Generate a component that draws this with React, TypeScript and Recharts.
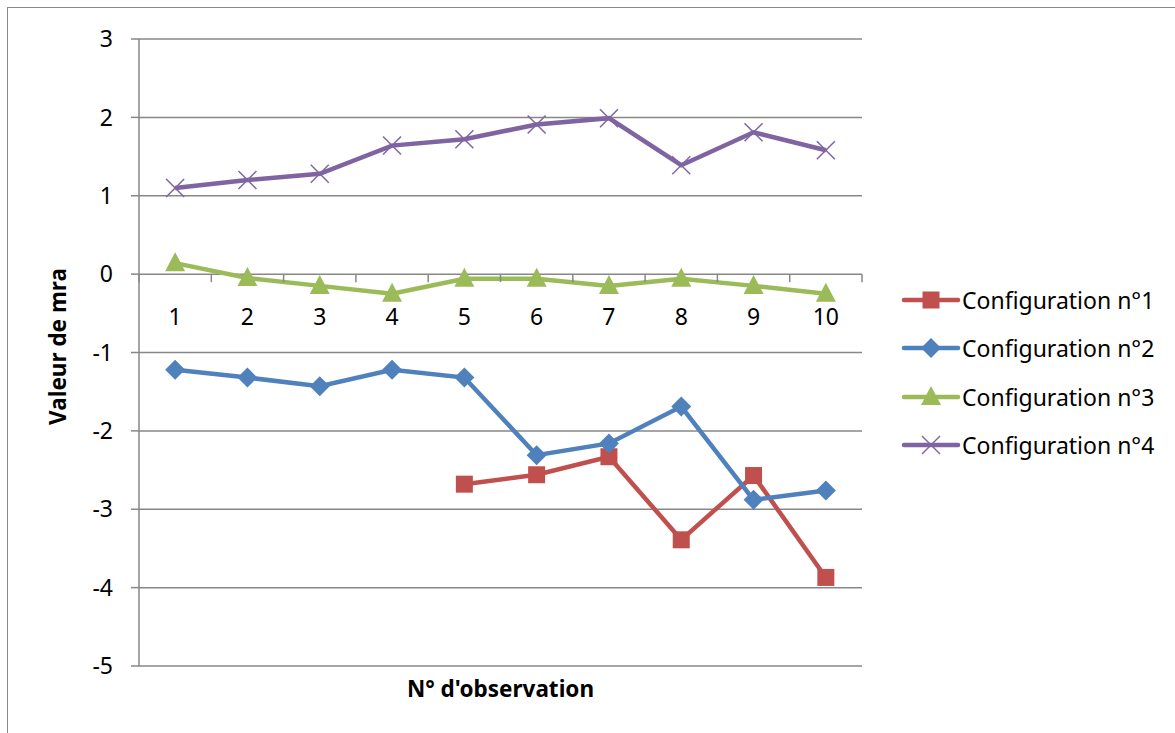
import React from "react";
import { LineChart, Line, XAxis, YAxis, CartesianGrid } from "recharts";

// valeurs
const observations = [1, 2, 3, 4, 5, 6, 7, 8, 9, 10];
const config1 = [null, null, null, null, -2.68, -2.56, -2.33, -3.39, -2.57, -3.87];
const config2 = [-1.22, -1.32, -1.43, -1.22, -1.32, -2.31, -2.16, -1.69, -2.88, -2.76];
const config3 = [0.14, -0.05, -0.15, -0.25, -0.06, -0.06, -0.15, -0.06, -0.15, -0.25];
const config4 = [1.1, 1.2, 1.28, 1.64, 1.72, 1.91, 1.99, 1.39, 1.81, 1.58];
const yTicks = [-5, -4, -3, -2, -1, 0, 1, 2, 3];
const seriesNames = ["Configuration n°1", "Configuration n°2", "Configuration n°3", "Configuration n°4"];

const data = observations.map((obs, i) => ({
  obs,
  c1: config1[i],
  c2: config2[i],
  c3: config3[i],
  c4: config4[i],
}));

const W = 1175;
const H = 733;
const PLOT_LEFT = 139;
const PLOT_TOP = 39;
const PLOT_RIGHT = 862;
const PLOT_BOTTOM = 666;
const PLOT_W = PLOT_RIGHT - PLOT_LEFT;
const PLOT_H = PLOT_BOTTOM - PLOT_TOP;
const Y_MIN = -5;
const Y_MAX = 3;
const ZERO_Y = PLOT_TOP + (Y_MAX / (Y_MAX - Y_MIN)) * PLOT_H;
const STEP = PLOT_W / observations.length;
const X_AXIS_H = 30;

const GRID = "#878787";
const FONT = "'Noto Sans', sans-serif";
const TXT = 23;

const series = [
  { key: "c1", color: "#C0504D", shape: "square" },
  { key: "c2", color: "#4F81BD", shape: "diamond" },
  { key: "c3", color: "#9BBB59", shape: "triangle" },
  { key: "c4", color: "#8064A2", shape: "cross" },
];

const Marker = ({ cx, cy, shape, color }: any) => {
  if (cx == null || cy == null || isNaN(cy)) return null;
  if (shape === "square") {
    return <rect x={cx - 8.5} y={cy - 8.5} width={17} height={17} fill={color} />;
  }
  if (shape === "diamond") {
    return <polygon points={`${cx},${cy - 10} ${cx + 10},${cy} ${cx},${cy + 10} ${cx - 10},${cy}`} fill={color} />;
  }
  if (shape === "triangle") {
    return <polygon points={`${cx},${cy - 11} ${cx + 10},${cy + 8} ${cx - 10},${cy + 8}`} fill={color} />;
  }
  return (
    <g stroke={color} strokeWidth={1.5}>
      <line x1={cx - 9} y1={cy - 9} x2={cx + 9} y2={cy + 9} />
      <line x1={cx - 9} y1={cy + 9} x2={cx + 9} y2={cy - 9} />
    </g>
  );
};

// étiquettes de l'axe horizontal placées sous la ligne du zéro
const XTick = ({ x, payload }: any) => {
  const last = payload.value === observations[observations.length - 1];
  return (
    <g>
      <line x1={x - STEP / 2} x2={x - STEP / 2} y1={ZERO_Y} y2={ZERO_Y + 8} stroke={GRID} strokeWidth={1.5} />
      {last && <line x1={x + STEP / 2} x2={x + STEP / 2} y1={ZERO_Y} y2={ZERO_Y + 8} stroke={GRID} strokeWidth={1.5} />}
      <text x={x} y={ZERO_Y + 51} textAnchor="middle" fontSize={TXT} fontFamily={FONT} fill="#000">
        {payload.value}
      </text>
    </g>
  );
};

const ChartLegend = () => (
  <div style={{ position: "absolute", left: 901, top: 276, fontFamily: FONT, fontSize: TXT, color: "#000" }}>
    {series.map((s, i) => (
      <div key={s.key} style={{ display: "flex", alignItems: "center", height: 48.3, whiteSpace: "nowrap" }}>
        <svg width={60} height={24} style={{ marginRight: 1 }}>
          <line x1={3} x2={57} y1={12} y2={12} stroke={s.color} strokeWidth={4.5} strokeLinecap="round" />
          <Marker cx={30} cy={12} shape={s.shape} color={s.color} />
        </svg>
        <span>{seriesNames[i]}</span>
      </div>
    ))}
  </div>
);

export default function App() {
  return (
    <div style={{ position: "fixed", left: 0, top: 0, width: W, height: H, overflow: "hidden", background: "#fff" }}>
      <div
        style={{
          position: "absolute",
          left: 7,
          top: 7,
          width: W + 20,
          height: H + 20,
          border: "1.5px solid #8a8a8a",
        }}
      />
      <div style={{ position: "absolute", left: 0, top: 0 }}>
        <LineChart
          width={W}
          height={H}
          data={data}
          margin={{ top: PLOT_TOP, right: W - PLOT_RIGHT, bottom: H - PLOT_BOTTOM - X_AXIS_H, left: 0 }}
        >
          <CartesianGrid vertical={false} stroke={GRID} strokeWidth={1.5} />
          <XAxis
            dataKey="obs"
            type="number"
            domain={[0.5, 10.5]}
            ticks={observations}
            axisLine={false}
            tickLine={false}
            height={X_AXIS_H}
            tick={<XTick />}
            interval={0}
            label={{
              content: ({ viewBox }: any) => (
                <text
                  x={viewBox.x + viewBox.width / 2}
                  y={PLOT_BOTTOM + 31}
                  textAnchor="middle"
                  fontSize={22.5}
                  fontWeight="bold"
                  fontFamily={FONT}
                  fill="#000"
                >
                  N° d'observation
                </text>
              ),
            }}
          />
          <YAxis
            type="number"
            domain={[Y_MIN, Y_MAX]}
            ticks={yTicks}
            width={PLOT_LEFT}
            interval={0}
            axisLine={{ stroke: GRID, strokeWidth: 1.5 }}
            tickLine={{ stroke: GRID, strokeWidth: 1.5 }}
            tickSize={8}
            tickMargin={18}
            tick={{ fontSize: TXT, fontFamily: FONT, fill: "#000" }}
            label={{
              content: ({ viewBox }: any) => {
                const cx = 57;
                const cy = viewBox.y + viewBox.height / 2 - 6;
                return (
                  <text
                    x={cx}
                    y={cy}
                    transform={`rotate(-90 ${cx} ${cy})`}
                    textAnchor="middle"
                    dominantBaseline="central"
                    fontSize={22.5}
                    fontWeight="bold"
                    fontFamily={FONT}
                    fill="#000"
                  >
                    Valeur de mra
                  </text>
                );
              },
            }}
          />
          {series.map((s, i) => (
            <Line
              key={s.key}
              dataKey={s.key}
              name={seriesNames[i]}
              stroke={s.color}
              strokeWidth={4.5}
              isAnimationActive={false}
              activeDot={false}
              dot={(p: any) => <Marker key={`${s.key}-${p.index}`} cx={p.cx} cy={p.cy} shape={s.shape} color={s.color} />}
            />
          ))}
        </LineChart>
      </div>
      <ChartLegend />
    </div>
  );
}
